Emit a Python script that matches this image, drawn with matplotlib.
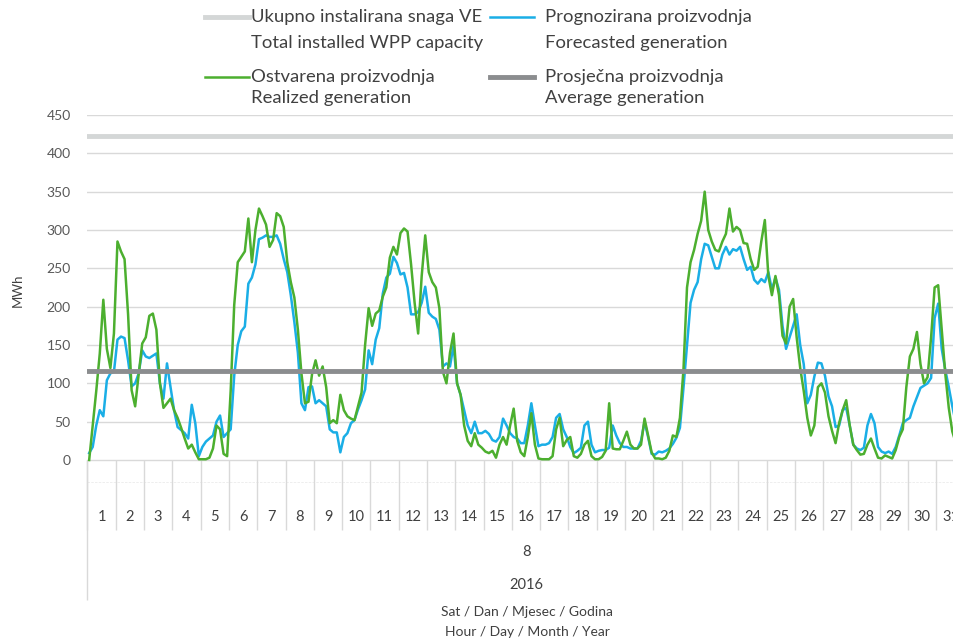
import numpy as np
import matplotlib
matplotlib.use("Agg")
import matplotlib.pyplot as plt
from matplotlib.lines import Line2D

plt.rcParams['font.family'] = ['Lato', 'DejaVu Sans']

# August 2016, values every 3 hours (MWh)
step_h = 3
n_days = 31
capacity = 422
average = 116

realized = [
    0, 45, 90, 139, 209, 145, 120, 165,
    285, 272, 262, 190, 91, 70, 112, 152,
    160, 188, 191, 170, 100, 68, 74, 80,
    65, 55, 42, 28, 15, 20, 10, 1,
    1, 1, 3, 15, 45, 40, 8, 5,
    90, 202, 258, 265, 272, 315, 258, 300,
    328, 318, 307, 278, 287, 322, 318, 304,
    258, 232, 212, 170, 113, 74, 76, 112,
    130, 110, 122, 95, 48, 52, 48, 85,
    65, 57, 54, 52, 70, 88, 150, 198,
    175, 191, 195, 213, 225, 264, 278, 268,
    296, 302, 298, 255, 205, 165, 240, 293,
    245, 232, 225, 198, 115, 100, 140, 165,
    100, 85, 45, 25, 18, 35, 20, 16,
    11, 9, 12, 3, 20, 30, 20, 45,
    67, 25, 10, 5, 30, 61, 20, 2,
    1, 1, 1, 5, 40, 55, 18, 26,
    30, 5, 3, 8, 20, 25, 5, 1,
    1, 4, 12, 74, 15, 14, 14, 25,
    37, 20, 15, 15, 20, 54, 32, 10,
    2, 2, 1, 3, 12, 32, 30, 55,
    118, 225, 258, 274, 295, 312, 350, 300,
    285, 274, 272, 285, 295, 328, 298, 304,
    300, 283, 282, 262, 248, 252, 285, 313,
    240, 215, 240, 215, 162, 152, 200, 210,
    160, 120, 90, 55, 32, 45, 95, 100,
    88, 57, 38, 22, 48, 65, 78, 45,
    20, 13, 7, 8, 20, 28, 15, 3,
    2, 6, 4, 2, 13, 30, 40, 95,
    135, 145, 167, 125, 100, 108, 160, 225,
    228, 170, 113, 68, 37, 22, 20, 25,
]

forecast = [
    9, 17, 45, 65, 57, 104, 113, 115,
    157, 161, 159, 130, 96, 100, 113, 143,
    135, 133, 136, 139, 100, 80, 126, 95,
    65, 43, 39, 35, 28, 72, 48, 5,
    17, 24, 28, 32, 50, 58, 30, 35,
    40, 110, 150, 168, 174, 230, 238, 255,
    288, 290, 293, 291, 291, 293, 282, 262,
    245, 215, 180, 140, 74, 65, 95, 96,
    74, 78, 74, 70, 40, 36, 36, 10,
    30, 35, 48, 52, 66, 78, 92, 143,
    125, 157, 172, 217, 238, 243, 265, 257,
    242, 244, 225, 190, 190, 193, 205, 226,
    192, 187, 184, 170, 122, 126, 122, 150,
    100, 85, 65, 45, 35, 50, 35, 35,
    38, 34, 26, 24, 30, 54, 45, 35,
    30, 28, 22, 22, 45, 74, 45, 18,
    20, 20, 22, 30, 55, 60, 40, 30,
    17, 9, 12, 16, 45, 50, 20, 10,
    12, 13, 13, 16, 45, 32, 22, 17,
    17, 15, 15, 15, 25, 50, 30, 8,
    7, 11, 10, 12, 15, 21, 29, 42,
    94, 150, 205, 222, 232, 262, 282, 280,
    265, 250, 250, 268, 278, 268, 275, 273,
    278, 262, 248, 252, 235, 230, 236, 232,
    245, 222, 238, 222, 175, 145, 160, 175,
    190, 150, 125, 74, 85, 109, 127, 126,
    110, 83, 70, 43, 45, 65, 68, 45,
    20, 15, 13, 16, 45, 60, 48, 17,
    11, 9, 11, 8, 17, 32, 48, 52,
    55, 70, 82, 94, 97, 100, 107, 185,
    204, 145, 118, 95, 70, 48, 40, 35,
]

day_labels = [str(d) for d in range(1, n_days + 1)]
month_label = "8"
year_label = "2016"
y_ticks = list(range(0, 451, 50))

legend_items = [
    ("Ukupno instalirana snaga VE", "Total installed WPP capacity"),
    ("Ostvarena proizvodnja", "Realized generation"),
    ("Prognozirana proizvodnja", "Forecasted generation"),
    ("Prosječna proizvodnja", "Average generation"),
]

c_cap = '#d4d7d7'
c_fc = '#1aaee6'
c_re = '#4caf2f'
c_avg = '#8b8d8f'
c_grid = '#d9d9d9'
c_txt = '#404040'

W, H = 954, 641
fig = plt.figure(figsize=(W / 100, H / 100), dpi=100)
# plot area in pixels: x 87.4 .. 964.7 (runs past the right edge), y 115 .. 483
ax = fig.add_axes([87.4 / W, (H - 483) / H, 877.3 / W, 368 / H])
total_h = n_days * 24
ax.set_xlim(0, total_h)
ax.set_ylim(-30, 450)
for s in ax.spines.values():
    s.set_visible(False)

hours = np.arange(len(realized)) * step_h + step_h / 2

for v in y_ticks:
    ax.axhline(v, color=c_grid, lw=1, zorder=0)
ax.axhline(-30, color='#7f7f7f', lw=0.9, ls=(0, (2, 1)), zorder=1)

ax.axhline(capacity, color=c_cap, lw=3.5, zorder=1)
ax.plot(hours, forecast, color=c_fc, lw=1.8, zorder=2, solid_joinstyle='round')
ax.plot(hours, realized, color=c_re, lw=1.8, zorder=3, solid_joinstyle='round')
ax.axhline(average, color=c_avg, lw=3.5, zorder=4)

ax.set_xticks([])
ax.set_yticks(y_ticks)
ax.set_yticklabels([str(v) for v in y_ticks], color='#595959', fontsize=10)
ax.tick_params(axis='y', length=0, pad=12)

# category axis separators
ax.vlines(np.arange(0, total_h + 1, 24), -91, 0, color=c_grid, lw=1, clip_on=False)
ax.vlines(0, -183, 0, color=c_grid, lw=1, clip_on=False)
for d, lab in enumerate(day_labels):
    ax.text(d * 24 + 12, -74, lab, ha='center', va='center', fontsize=10.5,
            color=c_txt, clip_on=False)
ax.text(total_h / 2, -120, month_label, ha='center', va='center', fontsize=10.5,
        color=c_txt, clip_on=False)
ax.text(total_h / 2, -163, year_label, ha='center', va='center', fontsize=10.5,
        color=c_txt, clip_on=False)

fig.text(527 / W, 1 - 612 / H, "Sat / Dan / Mjesec / Godina", ha='center', va='center',
         fontsize=10, color=c_txt)
fig.text(527 / W, 1 - 632 / H, "Hour / Day / Month / Year", ha='center', va='center',
         fontsize=10, color=c_txt)
fig.text(18 / W, 1 - 290 / H, "MWh", rotation=90, ha='center', va='center',
         fontsize=9.5, color=c_txt)

# legend, two columns of two-line entries
styles = [(c_cap, 3.5), (c_re, 1.8), (c_fc, 1.8), (c_avg, 3.5)]
col_x = [(205, 251), (490, 545)]
row_y = [(17, 43), (77, 98)]
for k, ((l1, l2), (col, lw)) in enumerate(zip(legend_items, styles)):
    (hx, tx) = col_x[k // 2]
    (y1, y2) = row_y[k % 2]
    fig.add_artist(Line2D([hx / W, (hx + 44) / W], [1 - y1 / H, 1 - y1 / H],
                          color=col, lw=lw, transform=fig.transFigure))
    fig.text(tx / W, 1 - y1 / H, l1, ha='left', va='center', fontsize=13.3, color=c_txt)
    fig.text(tx / W, 1 - y2 / H, l2, ha='left', va='center', fontsize=13.3, color=c_txt)

fig.savefig('out.png', dpi=100)
